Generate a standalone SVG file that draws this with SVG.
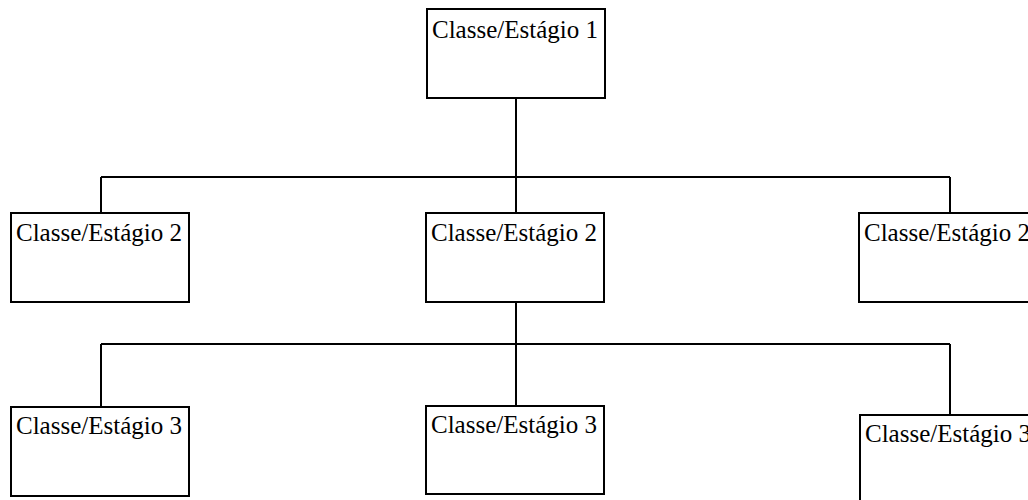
<svg xmlns="http://www.w3.org/2000/svg" width="1028" height="500" viewBox="0 0 1028 500">
  <style>
    .box { fill: #ffffff; stroke: #000000; stroke-width: 2; }
    .lbl { font-family: "Liberation Serif", "Times New Roman", serif; font-size: 25px; fill: #000000; }
    .wire { fill: none; stroke: #000000; stroke-width: 2; }
  </style>
  <rect width="1028" height="500" fill="#ffffff"/>

  <!-- connectors -->
  <g id="connectors" class="wire">
    <path d="M516 98 V177 M101 177 H950 M101 177 V213 M516 177 V213 M950 177 V213"/>
    <path d="M516 302 V344 M101 344 H950 M101 344 V407 M516 344 V406 M950 344 V415"/>
  </g>

  <!-- level 1 -->
  <g id="stage1">
    <rect class="box" x="427" y="9" width="178" height="89"/>
    <text class="lbl" x="432" y="38">Classe/Estágio 1</text>
  </g>

  <!-- level 2 -->
  <g id="stage2-left">
    <rect class="box" x="11" y="213" width="178" height="89"/>
    <text class="lbl" x="16" y="241">Classe/Estágio 2</text>
  </g>
  <g id="stage2-mid">
    <rect class="box" x="426" y="213" width="178" height="89"/>
    <text class="lbl" x="431" y="241">Classe/Estágio 2</text>
  </g>
  <g id="stage2-right">
    <rect class="box" x="859" y="213" width="178" height="89"/>
    <text class="lbl" x="864" y="241">Classe/Estágio 2</text>
  </g>

  <!-- level 3 -->
  <g id="stage3-left">
    <rect class="box" x="11" y="407" width="178" height="89"/>
    <text class="lbl" x="16" y="434">Classe/Estágio 3</text>
  </g>
  <g id="stage3-mid">
    <rect class="box" x="426" y="406" width="178" height="88"/>
    <text class="lbl" x="431" y="433">Classe/Estágio 3</text>
  </g>
  <g id="stage3-right">
    <rect class="box" x="860" y="415" width="178" height="89"/>
    <text class="lbl" x="865" y="442">Classe/Estágio 3</text>
  </g>
</svg>
